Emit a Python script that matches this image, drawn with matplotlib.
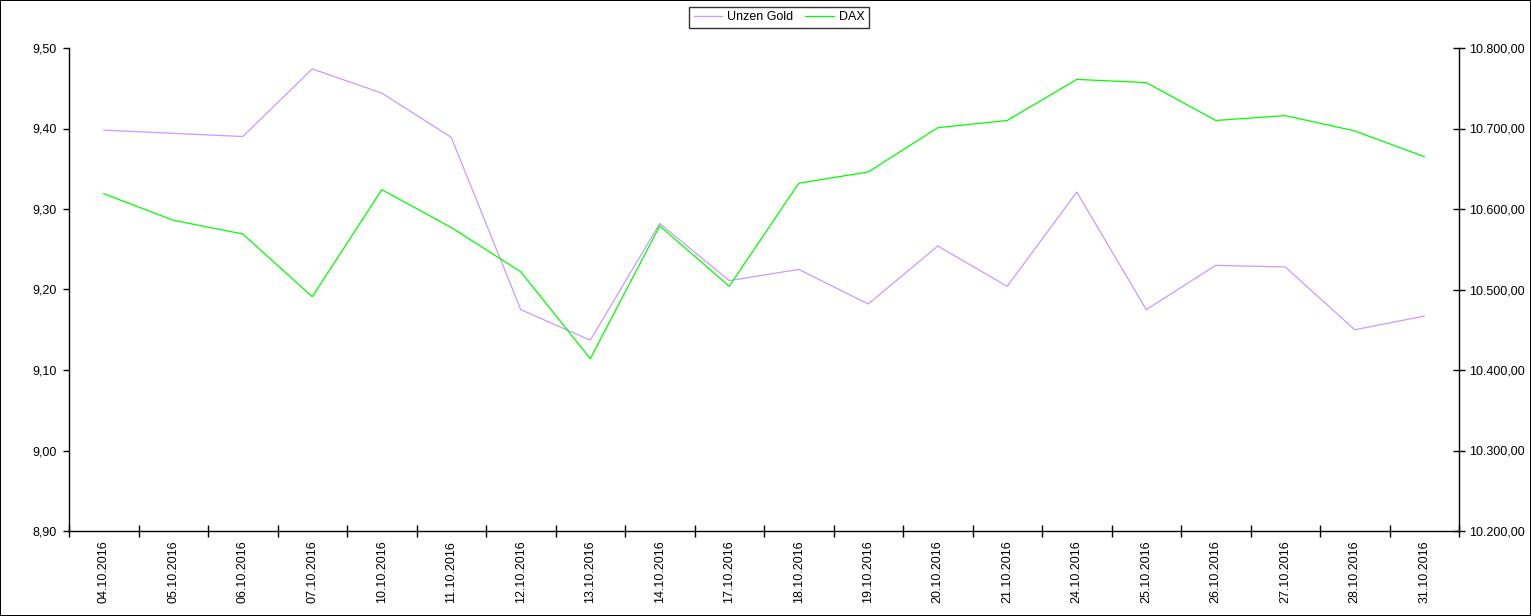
import matplotlib.pyplot as plt
from matplotlib.ticker import FuncFormatter, FixedLocator

plt.rcParams['font.family'] = ['Liberation Sans', 'DejaVu Sans']
plt.rcParams['font.size'] = 9

dates = ['04.10.2016', '05.10.2016', '06.10.2016', '07.10.2016', '10.10.2016',
         '11.10.2016', '12.10.2016', '13.10.2016', '14.10.2016', '17.10.2016',
         '18.10.2016', '19.10.2016', '20.10.2016', '21.10.2016', '24.10.2016',
         '25.10.2016', '26.10.2016', '27.10.2016', '28.10.2016', '31.10.2016']
gold = [9.398, 9.394, 9.390, 9.474, 9.444, 9.389, 9.175, 9.137, 9.282, 9.211,
        9.225, 9.182, 9.254, 9.204, 9.321, 9.175, 9.230, 9.228, 9.150, 9.167]
dax = [10619, 10586, 10569, 10491, 10624, 10577, 10522, 10414, 10579, 10504,
       10632, 10646, 10701, 10710, 10761, 10757, 10710, 10716, 10697, 10665]

gold_color = '#cc99ff'
dax_color = '#00ff00'

fig = plt.figure(figsize=(15.31, 6.16), dpi=100)
fig.patch.set_edgecolor('black')
fig.patch.set_linewidth(1.2)
ax = fig.add_axes([69/1531, 1-531/616, (1459-69)/1531, (531-48)/616])
ax2 = ax.twinx()

x = list(range(len(dates)))
l1, = ax.plot(x, gold, color=gold_color, lw=0.9, label='Unzen Gold')
l2, = ax2.plot(x, dax, color=dax_color, lw=0.9, label='DAX')

ax.set_xlim(-0.5, len(dates) - 0.5)
ax.set_ylim(8.90, 9.50)
ax2.set_ylim(10200, 10800)
ax.set_yticks([8.9 + 0.1*i for i in range(7)])
ax2.set_yticks([10200 + 100*i for i in range(7)])

ax.yaxis.set_major_formatter(FuncFormatter(lambda v, p: f'{v:.2f}'.replace('.', ',')))
ax2.yaxis.set_major_formatter(FuncFormatter(
    lambda v, p: f'{v:,.2f}'.replace(',', 'X').replace('.', ',').replace('X', '.')))

# category boundaries as major ticks, labels at the centres
ax.xaxis.set_major_locator(FixedLocator([i - 0.5 for i in range(len(dates) + 1)]))
ax.xaxis.set_major_formatter(FuncFormatter(lambda v, p: ''))
ax.set_xticks(x, minor=True)
ax.set_xticklabels(dates, minor=True, rotation=90)
ax.tick_params(axis='x', which='minor', length=0, pad=7)
ax.tick_params(axis='x', which='major', direction='inout', length=8, width=1)
ax.tick_params(axis='y', direction='out', length=4, width=1, pad=5)
ax2.tick_params(axis='y', direction='inout', length=8, width=1, pad=3)

for a in (ax, ax2):
    a.spines['top'].set_visible(False)
    for s in a.spines.values():
        s.set_linewidth(1)
ax.spines['right'].set_visible(False)
ax2.spines['left'].set_visible(False)
ax2.spines['bottom'].set_visible(False)

leg = fig.legend([l1, l2], ['Unzen Gold', 'DAX'], loc='center',
                 bbox_to_anchor=(779/1531, 1-17.5/616), ncol=2, frameon=True,
                 fancybox=False, edgecolor='black', handlelength=2.3,
                 columnspacing=1.0, borderpad=0.35, handletextpad=0.35,
                 borderaxespad=0)
leg.get_frame().set_linewidth(1)

fig.savefig('out.png', dpi=100)
